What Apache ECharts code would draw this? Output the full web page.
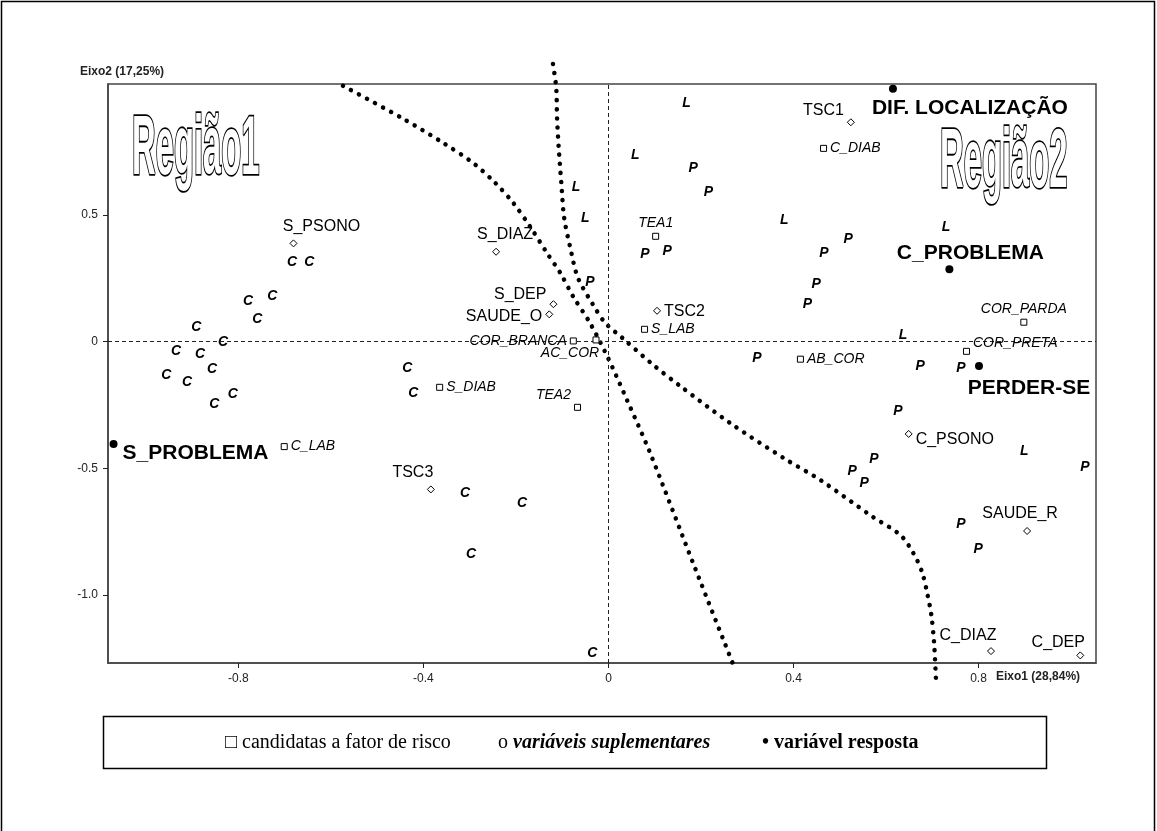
<!DOCTYPE html>
<html>
<head>
<meta charset="utf-8">
<script src="https://cdn.jsdelivr.net/npm/echarts@6/dist/echarts.min.js"></script>
<style>
html, body { margin: 0; padding: 0; background: #fff; }
#chart { width: 1157px; height: 831px; }
</style>
</head>
<body>
<div id="chart"></div>
<script>
// candidatas a fator de risco (quadrados)
var candNames = ['C_DIAB', 'TEA1', 'S_LAB', 'COR_BRANCA', 'AC_COR', 'S_DIAB', 'TEA2', 'AB_COR', 'C_LAB', 'COR_PARDA', 'COR_PRETA'];
var candX = [0.465, 0.102, 0.078, -0.076, -0.027, -0.365, -0.067, 0.415, -0.701, 0.898, 0.774];
var candY = [0.763, 0.416, 0.049, 0.003, 0.007, -0.180, -0.259, -0.069, -0.414, 0.077, -0.038];

// variaveis suplementares
var supNames = ['S_PSONO', 'S_DIAZ', 'S_DEP', 'SAUDE_O', 'TSC1', 'TSC2', 'TSC3', 'C_PSONO', 'SAUDE_R', 'C_DIAZ', 'C_DEP'];
var supX = [-0.681, -0.243, -0.119, -0.128, 0.524, 0.105, -0.384, 0.649, 0.905, 0.827, 1.020];
var supY = [0.388, 0.355, 0.148, 0.108, 0.866, 0.122, -0.583, -0.364, -0.747, -1.221, -1.238];

// variavel resposta
var respNames = ['DIF. LOCALIZAÇÃO', 'C_PROBLEMA', 'PERDER-SE', 'S_PROBLEMA'];
var respX = [0.615, 0.737, 0.801, -1.070];
var respY = [0.998, 0.286, -0.096, -0.404];

// individuos por grupo
var cX = [-0.684, -0.647, -0.779, -0.727, -0.759, -0.891, -0.833, -0.935, -0.883, -0.857, -0.956, -0.911, -0.812, -0.852, -0.435, -0.422, -0.310, -0.187, -0.297, -0.035];
var cY = [0.315, 0.315, 0.161, 0.180, 0.089, 0.058, -0.001, -0.037, -0.049, -0.108, -0.132, -0.159, -0.206, -0.246, -0.104, -0.203, -0.597, -0.637, -0.838, -1.229];
var lX = [0.169, 0.058, -0.070, -0.050, 0.380, 0.730, 0.637, 0.899];
var lY = [0.942, 0.737, 0.611, 0.488, 0.480, 0.453, 0.026, -0.432];
var pX = [0.183, 0.216, 0.079, 0.127, 0.466, 0.518, 0.449, 0.430, -0.040, 0.321, 0.674, 0.762, 0.626, 0.574, 0.527, 0.553, 1.030, 0.762, 0.799];
var pY = [0.686, 0.591, 0.346, 0.358, 0.351, 0.405, 0.228, 0.149, 0.236, -0.064, -0.096, -0.104, -0.274, -0.463, -0.511, -0.559, -0.495, -0.720, -0.818];

// fronteiras das regioes (linhas pontilhadas)
var frontAX = [-0.574, -0.444, -0.357, -0.293, -0.245, -0.206, -0.169, -0.133, -0.104, -0.076, -0.040, -0.001, 0.040, 0.090, 0.183, 0.270];
var frontAY = [1.010, 0.880, 0.784, 0.706, 0.627, 0.548, 0.453, 0.350, 0.271, 0.177, 0.074, -0.064, -0.230, -0.439, -0.874, -1.276];
var frontBX = [-0.120, -0.113, -0.111, -0.107, -0.102, -0.096, -0.083, -0.066, -0.033, -0.007, 0.030, 0.097, 0.155, 0.263, 0.382, 0.458, 0.572, 0.631, 0.659, 0.678, 0.689, 0.698, 0.704, 0.708];
var frontBY = [1.096, 1.002, 0.875, 0.749, 0.627, 0.492, 0.374, 0.252, 0.145, 0.074, 0.015, -0.092, -0.175, -0.321, -0.463, -0.546, -0.692, -0.763, -0.834, -0.909, -0.992, -1.079, -1.190, -1.336];

var xTicks = [-0.8, -0.4, 0, 0.4, 0.8];
var yTicks = [-1.0, -0.5, 0, 0.5];

// onde fica o rotulo de cada ponto
var labelPos = {
    'C_DIAB': ['right', [0, 0]],
    'TEA1': ['top', [0, 0]],
    'S_LAB': ['right', [0, 0]],
    'COR_BRANCA': ['left', [0, 0]],
    'AC_COR': ['bottom', [-26, 0]],
    'S_DIAB': ['right', [0, 0]],
    'TEA2': ['left', [0, -12]],
    'AB_COR': ['right', [0, 0]],
    'C_LAB': ['right', [0, 0]],
    'COR_PARDA': ['top', [0, 0]],
    'COR_PRETA': ['right', [0, -8]],
    'S_PSONO': ['top', [28, -2]],
    'S_DIAZ': ['top', [9, -2]],
    'S_DEP': ['left', [0, -10]],
    'SAUDE_O': ['left', [0, 2]],
    'TSC1': ['left', [0, -12]],
    'TSC2': ['right', [0, 1]],
    'TSC3': ['top', [-18, -2]],
    'C_PSONO': ['right', [0, 6]],
    'SAUDE_R': ['top', [-7, -2]],
    'C_DIAZ': ['top', [-23, 0]],
    'C_DEP': ['top', [-22, 2]],
    'DIF. LOCALIZAÇÃO': ['bottom', [77, 0]],
    'C_PROBLEMA': ['top', [21, 3]],
    'PERDER-SE': ['bottom', [50, 3]],
    'S_PROBLEMA': ['right', [0, 9]]
};

function points(names, xs, ys) {
    return names.map(function (n, i) {
        var p = labelPos[n];
        return { name: n, value: [xs[i], ys[i]], label: { position: p[0], offset: p[1] } };
    });
}

function pairs(xs, ys) {
    return xs.map(function (x, i) { return [x, ys[i]]; });
}

function letterSeries(xs, ys, ch) {
    return {
        type: 'scatter',
        symbol: 'circle',
        symbolSize: 1,
        silent: true,
        itemStyle: { color: 'transparent', opacity: 1 },
        label: {
            show: true, position: 'inside', formatter: ch, color: '#000',
            fontFamily: 'Liberation Sans', fontSize: 14, fontWeight: 'bold', fontStyle: 'italic'
        },
        data: pairs(xs, ys),
        z: 3
    };
}

function frontier(xs, ys) {
    return {
        type: 'line',
        data: pairs(xs, ys),
        showSymbol: false,
        symbol: 'none',
        smooth: 0.3,
        clip: false,
        silent: true,
        lineStyle: { color: '#000', width: 4.5, type: [0.1, 9], cap: 'round' },
        z: 4
    };
}

var chart = echarts.init(document.getElementById('chart'));

var regiaoStyle = {
    fill: '#fff', stroke: '#000', lineWidth: 3.6,
    font: 'bold 84px "Liberation Sans"', verticalAlign: 'middle', align: 'left'
};

option = {
    animation: false,
    backgroundColor: '#fff',
    grid: {
        left: 108, top: 84, width: 988, height: 579,
        show: true, borderColor: '#444', borderWidth: 1.5
    },
    xAxis: {
        type: 'value', min: -1.082, max: 1.054,
        splitLine: { show: false },
        axisLine: { show: true, onZero: false, lineStyle: { color: '#444', width: 1.5 } },
        axisTick: { show: true, customValues: xTicks, length: 5, lineStyle: { color: '#222' } },
        axisLabel: {
            customValues: xTicks, margin: 10, color: '#222', fontSize: 12, fontFamily: 'Liberation Sans',
            formatter: function (v) { return v === 0 ? '0' : v.toFixed(1); }
        }
    },
    yAxis: {
        type: 'value', min: -1.268, max: 1.017,
        splitLine: { show: false },
        axisLine: { show: true, onZero: false, lineStyle: { color: '#444', width: 1.5 } },
        axisTick: { show: true, customValues: yTicks, length: 5, lineStyle: { color: '#222' } },
        axisLabel: {
            customValues: yTicks, margin: 10, color: '#222', fontSize: 12, fontFamily: 'Liberation Sans',
            formatter: function (v) { return v === 0 ? '0' : v.toFixed(1); }
        }
    },
    series: [
        {
            name: 'candidatas a fator de risco',
            type: 'scatter',
            symbol: 'rect', symbolSize: 6,
            itemStyle: { color: '#fff', borderColor: '#000', borderWidth: 1, opacity: 1 },
            label: {
                show: true, formatter: '{b}', color: '#000', distance: 3,
                fontFamily: 'Liberation Sans', fontSize: 14, fontStyle: 'italic'
            },
            data: points(candNames, candX, candY),
            markLine: {
                silent: true, symbol: 'none',
                label: { show: false },
                lineStyle: { color: '#222', width: 1, type: [4, 3] },
                data: [{ xAxis: 0 }, { yAxis: 0 }]
            },
            z: 5
        },
        {
            name: 'variáveis suplementares',
            type: 'scatter',
            symbol: 'diamond', symbolSize: 7,
            itemStyle: { color: '#fff', borderColor: '#000', borderWidth: 1, opacity: 1 },
            label: {
                show: true, formatter: '{b}', color: '#000', distance: 3,
                fontFamily: 'Liberation Sans', fontSize: 16
            },
            data: points(supNames, supX, supY),
            z: 5
        },
        {
            name: 'variável resposta',
            type: 'scatter',
            symbol: 'circle', symbolSize: 8,
            itemStyle: { color: '#000', opacity: 1 },
            label: {
                show: true, formatter: '{b}', color: '#000', distance: 5,
                fontFamily: 'Liberation Sans', fontSize: 21, fontWeight: 'bold'
            },
            data: points(respNames, respX, respY),
            z: 5
        },
        letterSeries(cX, cY, 'C'),
        letterSeries(lX, lY, 'L'),
        letterSeries(pX, pY, 'P'),
        frontier(frontAX, frontAY),
        frontier(frontBX, frontBY)
    ],
    graphic: [
        {
            type: 'rect', silent: true, z: -1,
            shape: { x: 1.5, y: 1.5, width: 1153, height: 840 },
            style: { fill: 'none', stroke: '#000', lineWidth: 1.5 }
        },
        {
            type: 'text', x: 80, y: 72, silent: true,
            style: { text: 'Eixo2 (17,25%)', font: 'bold 12px "Liberation Sans"', fill: '#222', verticalAlign: 'middle' }
        },
        {
            type: 'text', x: 996, y: 677, silent: true,
            style: { text: 'Eixo1 (28,84%)', font: 'bold 12px "Liberation Sans"', fill: '#222', verticalAlign: 'middle' }
        },
        {
            type: 'text', x: 132, y: 151, scaleX: 0.39, silent: true, z: 10,
            style: Object.assign({ text: 'Região1' }, regiaoStyle)
        },
        {
            type: 'text', x: 940, y: 164, scaleX: 0.39, silent: true, z: 10,
            style: Object.assign({ text: 'Região2' }, regiaoStyle)
        },
        {
            type: 'rect', silent: true,
            shape: { x: 103.5, y: 716.5, width: 943, height: 52 },
            style: { fill: '#fff', stroke: '#000', lineWidth: 1.5 }
        },
        {
            type: 'text', x: 225, y: 743, silent: true,
            style: { text: '□ candidatas a fator de risco', font: '20px "Liberation Serif"', fill: '#000', verticalAlign: 'middle' }
        },
        {
            type: 'text', x: 498, y: 743, silent: true,
            style: {
                text: '{a|o }{b|variáveis suplementares}', font: '20px "Liberation Serif"', fill: '#000', verticalAlign: 'middle',
                rich: {
                    a: { fontFamily: 'Liberation Serif', fontSize: 20 },
                    b: { fontFamily: 'Liberation Serif', fontSize: 20, fontWeight: 'bold', fontStyle: 'italic' }
                }
            }
        },
        {
            type: 'text', x: 762, y: 743, silent: true,
            style: { text: '• variável resposta', font: 'bold 20px "Liberation Serif"', fill: '#000', verticalAlign: 'middle' }
        }
    ]
};

chart.setOption(option);
</script>
</body>
</html>
